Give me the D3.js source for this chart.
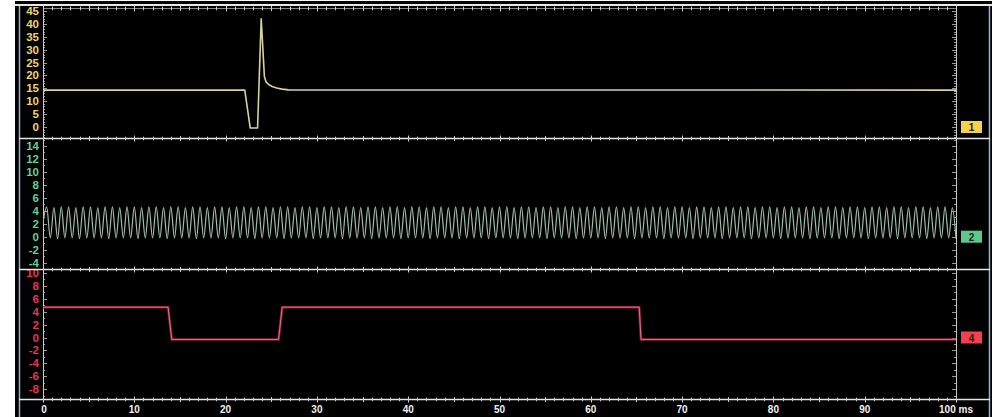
<!DOCTYPE html>
<html><head><meta charset="utf-8">
<script src="https://cdn.jsdelivr.net/npm/d3@7/dist/d3.min.js"></script>
<style>html,body{margin:0;padding:0;background:#fff;}svg{display:block;}</style>
</head><body>
<svg id="c" width="997" height="417"></svg>
<script>
// ---------- data ----------
const xTicks = [0,10,20,30,40,50,60,70,80,90,100];
const ch1Ticks = [0,5,10,15,20,25,30,35,40,45];
const ch2Ticks = [-4,-2,0,2,4,6,8,10,12,14];
const ch4Ticks = [-8,-6,-4,-2,0,2,4,6,8,10];

// channel 1 (ms, value)
const ch1Time = [0,22.1,22.7,23.5,23.9,24.25,24.45,24.75,25.1,25.6,26.2,26.9,100];
const ch1Vals = [14.3,14.3,-0.4,-0.4,42,19.5,17.4,16.4,15.7,15.1,14.7,14.4,14.3];

// channel 4 (ms, value)
const ch4Time = [0,13.7,14.1,25.8,26.2,65.3,65.5,100];
const ch4Vals = [4.7,4.7,-0.3,-0.3,4.7,4.7,-0.3,-0.3];

// channel 2: successive extremes, one every 0.4 ms (half period)
const ch2Step = 0.4;
const ch2Vals = [
 2.2,4.6,-0.2,4.5,-0.3,4.6,-0.2,4.6,-0.2,4.5,
 -0.3,4.6,-0.2,4.6,-0.2,4.5,-0.2,4.6,-0.3,4.6,
 -0.2,4.5,-0.2,4.6,-0.2,4.6,-0.3,4.5,-0.2,4.6,
 -0.2,4.6,-0.2,4.5,-0.3,4.6,-0.2,4.6,-0.2,4.5,
 -0.2,4.6,-0.3,4.6,-0.2,4.5,-0.2,4.6,-0.2,4.6,
 -0.3,4.5,-0.2,4.6,-0.2,4.6,-0.2,4.5,-0.3,4.6,
 -0.2,4.6,-0.2,4.5,-0.2,4.6,-0.3,4.6,-0.2,4.5,
 -0.2,4.6,-0.2,4.6,-0.3,4.5,-0.2,4.6,-0.2,4.6,
 -0.2,4.5,-0.3,4.6,-0.2,4.6,-0.2,4.5,-0.2,4.6,
 -0.3,4.6,-0.2,4.5,-0.2,4.6,-0.2,4.6,-0.3,4.5,
 -0.2,4.6,-0.2,4.6,-0.2,4.5,-0.3,4.6,-0.2,4.6,
 -0.2,4.5,-0.2,4.6,-0.3,4.6,-0.2,4.5,-0.2,4.6,
 -0.2,4.6,-0.3,4.5,-0.2,4.6,-0.2,4.6,-0.2,4.5,
 -0.3,4.6,-0.2,4.6,-0.2,4.5,-0.2,4.6,-0.3,4.6,
 -0.2,4.5,-0.2,4.6,-0.2,4.6,-0.3,4.5,-0.2,4.6,
 -0.2,4.6,-0.2,4.5,-0.3,4.6,-0.2,4.6,-0.2,4.5,
 -0.2,4.6,-0.3,4.6,-0.2,4.5,-0.2,4.6,-0.2,4.6,
 -0.3,4.5,-0.2,4.6,-0.2,4.6,-0.2,4.5,-0.3,4.6,
 -0.2,4.6,-0.2,4.5,-0.2,4.6,-0.3,4.6,-0.2,4.5,
 -0.2,4.6,-0.2,4.6,-0.3,4.5,-0.2,4.6,-0.2,4.6,
 -0.2,4.5,-0.3,4.6,-0.2,4.6,-0.2,4.5,-0.2,4.6,
 -0.3,4.6,-0.2,4.5,-0.2,4.6,-0.2,4.6,-0.3,4.5,
 -0.2,4.6,-0.2,4.6,-0.2,4.5,-0.3,4.6,-0.2,4.6,
 -0.2,4.5,-0.2,4.6,-0.3,4.6,-0.2,4.5,-0.2,4.6,
 -0.2,4.6,-0.3,4.5,-0.2,4.6,-0.2,4.6,-0.2,4.5,
 -0.3
];

// ---------- layout ----------
const svg = d3.select("#c");
const X0 = 43, X1 = 956;
const x = d3.scaleLinear().domain([0,100]).range([X0,X1]);

const panels = [
  {id:1, top:8,   bot:138, y:d3.scaleLinear().domain([0,45]).range([127,11]),  ticks:ch1Ticks, minor:1, major:5,
   lab:"#ecd565", line:"#d8d1a0", box:"#f4d24c"},
  {id:2, top:138, bot:269, y:d3.scaleLinear().domain([0,14]).range([236.7,146]), ticks:ch2Ticks, minor:1, major:2,
   lab:"#62d08e", line:"#9cbfa9", box:"#5cc98b"},
  {id:4, top:269, bot:399, y:d3.scaleLinear().domain([0,10]).range([337.5,273]), ticks:ch4Ticks, minor:1, major:2,
   lab:"#e8344f", line:"#d84a6c", box:"#f2404f"}
];

// frame
svg.append("rect").attr("x",15).attr("y",1).attr("width",977).attr("height",416).attr("fill","#000");
svg.append("line").attr("x1",19.5).attr("x2",19.5).attr("y1",6).attr("y2",417).attr("stroke","#8fb4d8").attr("stroke-width",1.5);
svg.append("line").attr("x1",989.5).attr("x2",989.5).attr("y1",6).attr("y2",417).attr("stroke","#8fb4d8").attr("stroke-width",1.5);
svg.append("line").attr("x1",15).attr("x2",992).attr("y1",5).attr("y2",5).attr("stroke","#e8e8e8").attr("stroke-width",2);

const font = "'Liberation Sans', Arial, sans-serif";

// clip paths
const defs = svg.append("defs");
panels.forEach(p=>{
  defs.append("clipPath").attr("id","clip"+p.id).append("rect")
    .attr("x",X0).attr("y",p.top+1).attr("width",X1-X0).attr("height",p.bot-p.top-1);
});

// vertical axis lines + ticks
const gAx = svg.append("g");
panels.forEach(p=>{
  const lo = p.y.invert(p.bot), hi = p.y.invert(p.top);
  const vals = d3.range(Math.ceil(lo), Math.floor(hi)+1, p.minor);
  vals.forEach(v=>{
    const yy = Math.round(p.y(v))+0.5;
    const len = (v % p.major === 0) ? 4 : 2;
    gAx.append("line").attr("x1",X0).attr("x2",X0+len).attr("y1",yy).attr("y2",yy).attr("stroke","#9a9a9a").attr("stroke-width",1);
    gAx.append("line").attr("x1",X1-len).attr("x2",X1).attr("y1",yy).attr("y2",yy).attr("stroke","#9a9a9a").attr("stroke-width",1);
  });
  // labels
  svg.append("g").selectAll("text").data(p.ticks).join("text")
    .attr("x",39).attr("y",d=>p.y(d)+4)
    .attr("text-anchor","end").attr("font-family",font).attr("font-weight","bold")
    .attr("font-size",11.5).attr("fill",p.lab).text(d=>d);
});
gAx.append("line").attr("x1",X0+0.5).attr("x2",X0+0.5).attr("y1",8).attr("y2",399).attr("stroke","#c8c8c8").attr("stroke-width",1);
gAx.append("line").attr("x1",X1+0.5).attr("x2",X1+0.5).attr("y1",8).attr("y2",399).attr("stroke","#c8c8c8").attr("stroke-width",1);

// horizontal separators with ms ticks
const hLines = [{y:8,c:"#8a8a8a",x1:X0,x2:X1},{y:138,c:"#e6e6e6",x1:19,x2:990},{y:269,c:"#e6e6e6",x1:19,x2:990},{y:399,c:"#e6e6e6",x1:19,x2:990}];
const msTicks = d3.range(0,101,1);
hLines.forEach(h=>{
  svg.append("line").attr("x1",h.x1).attr("x2",h.x2).attr("y1",h.y+0.5).attr("y2",h.y+0.5).attr("stroke",h.c).attr("stroke-width",h.y===8?1:1.5);
  svg.append("g").selectAll("line").data(msTicks).join("line")
    .attr("x1",d=>Math.round(x(d))+0.5).attr("x2",d=>Math.round(x(d))+0.5)
    .attr("y1",d=>h.y+0.5-(d%10===0?3:(d%5===0?2.5:1.8)))
    .attr("y2",d=>h.y+0.5+(d%10===0?3:(d%5===0?2.5:1.8)))
    .attr("stroke","#cfcfcf").attr("stroke-width",1);
});

// traces
const p1 = panels[0], p2 = panels[1], p4 = panels[2];

svg.append("path").attr("clip-path","url(#clip1)")
  .attr("d", d3.line().x((d,i)=>x(ch1Time[i])).y(d=>p1.y(d))(ch1Vals))
  .attr("fill","none").attr("stroke",p1.line).attr("stroke-width",1.6).attr("stroke-linejoin","round");

svg.append("path").attr("clip-path","url(#clip2)")
  .attr("d", d3.line().curve(d3.curveMonotoneX).x((d,i)=>x(i*ch2Step)).y(d=>p2.y(d))(ch2Vals))
  .attr("fill","none").attr("stroke",p2.line).attr("stroke-width",1.2);

svg.append("path").attr("clip-path","url(#clip4)")
  .attr("d", d3.line().x((d,i)=>x(ch4Time[i])).y(d=>p4.y(d))(ch4Vals))
  .attr("fill","none").attr("stroke","#a82242").attr("stroke-width",2.6).attr("opacity",0.8);
svg.append("path").attr("clip-path","url(#clip4)")
  .attr("d", d3.line().x((d,i)=>x(ch4Time[i])).y(d=>p4.y(d))(ch4Vals))
  .attr("fill","none").attr("stroke","#e27088").attr("stroke-width",1);

// channel boxes
panels.forEach(p=>{
  const cy = p.y(0);
  svg.append("rect").attr("x",961).attr("y",cy-6).attr("width",21).attr("height",12).attr("fill",p.box);
  svg.append("text").attr("x",971.5).attr("y",cy+4).attr("text-anchor","middle")
    .attr("font-family",font).attr("font-weight","bold").attr("font-size",10).attr("fill","#222").text(p.id);
});

// x labels
svg.append("g").selectAll("text").data(xTicks).join("text")
  .attr("x",d=>x(d)+ (d===0?1:0)).attr("y",413)
  .attr("text-anchor","middle").attr("font-family",font).attr("font-weight","bold")
  .attr("font-size",10).attr("fill","#f2f2f2").text(d=>d===100?"100 ms":d);
</script>
</body></html>
